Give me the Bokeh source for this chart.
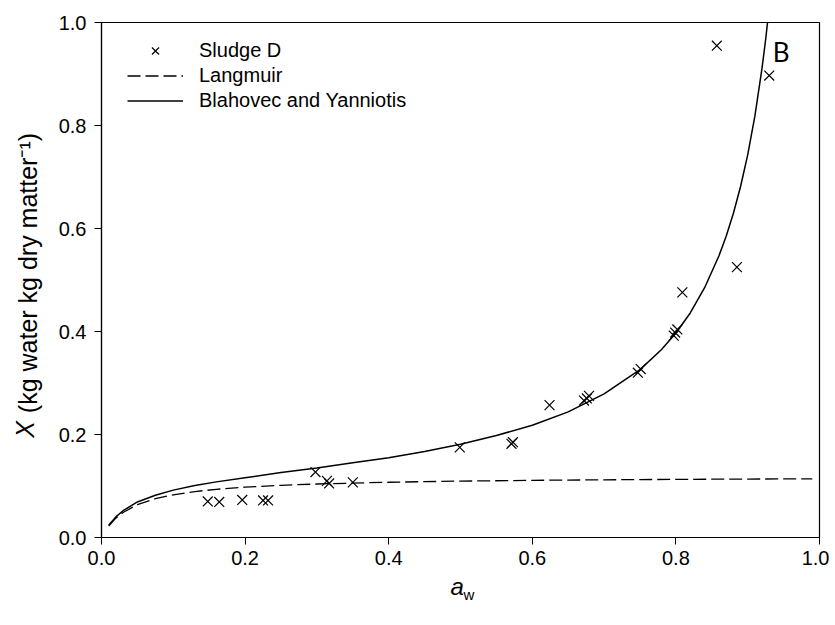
from bokeh.plotting import figure
from bokeh.models import (Range1d, Legend, LegendItem, Label, FixedTicker,
                          PrintfTickFormatter, LinearAxis)
from bokeh.embed import file_html
from bokeh.resources import INLINE

# ---- data ----
aw_pts = [0.148, 0.164, 0.196, 0.225, 0.232, 0.298, 0.314, 0.317, 0.350, 0.499,
          0.571, 0.573, 0.624, 0.672, 0.676, 0.679, 0.747, 0.751, 0.797, 0.799,
          0.802, 0.809, 0.857, 0.885, 0.930]
x_pts = [0.070, 0.069, 0.073, 0.072, 0.072, 0.127, 0.110, 0.105, 0.107, 0.175,
         0.182, 0.185, 0.257, 0.266, 0.270, 0.275, 0.320, 0.327, 0.392, 0.398,
         0.404, 0.476, 0.955, 0.525, 0.897]

lang_aw = [0.01, 0.02, 0.03, 0.05, 0.075, 0.10, 0.13, 0.16, 0.20, 0.25, 0.30,
           0.40, 0.50, 0.60, 0.70, 0.80, 0.90, 0.99]
lang_x = [0.022, 0.0375, 0.0486, 0.0637, 0.0753, 0.0829, 0.0892, 0.0936, 0.0978,
          0.1014, 0.1039, 0.1073, 0.1095, 0.1110, 0.1120, 0.1129, 0.1135, 0.1139]

by_aw = [0.01, 0.02, 0.03, 0.05, 0.075, 0.10, 0.13, 0.16, 0.20, 0.25, 0.30, 0.35,
         0.40, 0.45, 0.50, 0.55, 0.60, 0.65, 0.70, 0.75, 0.78, 0.80, 0.82, 0.84,
         0.86, 0.87, 0.88, 0.89, 0.90, 0.91, 0.92, 0.925, 0.93]
by_x = [0.024, 0.040, 0.052, 0.069, 0.082, 0.092, 0.101, 0.108, 0.116, 0.126,
        0.135, 0.145, 0.155, 0.167, 0.181, 0.198, 0.218, 0.244, 0.279, 0.326,
        0.365, 0.397, 0.436, 0.485, 0.547, 0.585, 0.629, 0.681, 0.743, 0.818,
        0.912, 0.967, 1.030]

ticks = [0.0, 0.2, 0.4, 0.6, 0.8, 1.0]
series_names = ["Sludge D", "Langmuir", "Blahovec and Yanniotis"]

FONT = "Liberation Sans"
NB = "\u00a0"

p = figure(width=829, height=620, output_backend="svg", toolbar_location=None,
           x_range=Range1d(0, 1), y_range=Range1d(0, 1),
           min_border_left=101, min_border_right=10, min_border_top=22,
           min_border_bottom=83)
p.background_fill_color = "white"
p.border_fill_color = "white"
p.outline_line_color = "black"
p.outline_line_width = 1.2
p.grid.visible = False

for ax in (p.xaxis[0], p.yaxis[0]):
    ax.ticker = FixedTicker(ticks=ticks)
    ax.formatter = PrintfTickFormatter(format="%.1f")
    ax.minor_tick_line_color = None
    ax.major_tick_in = 0
    ax.major_tick_out = 7
    ax.major_tick_line_color = "black"
    ax.axis_line_color = "black"
    ax.axis_line_width = 1.2
    ax.major_label_text_font = FONT
    ax.major_label_text_font_size = "20px"
    ax.major_label_text_color = "black"
    ax.axis_label_text_font = FONT
    ax.axis_label_text_color = "black"
p.xaxis.major_label_standoff = 6
p.yaxis.major_label_standoff = 8

# x axis title  a_w : italic "a" on the main axis, subscript "w" on a bare axis below
p.xaxis[0].axis_label = "a" + NB
p.xaxis[0].axis_label_text_font_style = "italic"
p.xaxis[0].axis_label_text_font_size = "24px"
p.xaxis[0].axis_label_standoff = 5

def bare_axis(label, size, style, standoff):
    a = LinearAxis(ticker=FixedTicker(ticks=[]), axis_line_color=None,
                   major_tick_line_color=None, minor_tick_line_color=None,
                   major_tick_out=0, major_tick_in=0, major_label_standoff=0,
                   axis_label=label, axis_label_standoff=standoff,
                   axis_label_text_font=FONT, axis_label_text_font_size=size,
                   axis_label_text_font_style=style, axis_label_text_color="black")
    return a

p.add_layout(bare_axis(NB * 4 + "w", "15px", "normal", -17), "below")

# y axis title: X (kg water kg dry matter^-1)
p.yaxis[0].axis_label = NB * 2 + "(kg water kg dry matter\u207b\u00b9)"
p.yaxis[0].axis_label_text_font_style = "normal"
p.yaxis[0].axis_label_text_font_size = "25px"
p.yaxis[0].axis_label_standoff = 14
p.add_layout(bare_axis("X" + NB * 43, "25px", "italic", -28), "left")

r_by = p.line(by_aw, by_x, line_color="black", line_width=1.5)
r_lang = p.line(lang_aw, lang_x, line_color="black", line_width=1.3, line_dash="13 5")
r_pts = p.scatter(aw_pts, x_pts, marker="x", size=14, line_color="black", line_width=1.2)

legend = Legend(items=[LegendItem(label=series_names[0], renderers=[r_pts]),
                       LegendItem(label=series_names[1], renderers=[r_lang]),
                       LegendItem(label=series_names[2], renderers=[r_by])],
                location=(26, 424), orientation="vertical",
                glyph_width=56, glyph_height=25, label_height=20, label_width=10,
                spacing=0, padding=0, margin=0, label_standoff=16,
                label_text_font=FONT, label_text_font_size="20px",
                label_text_color="black",
                border_line_color=None, background_fill_alpha=0)
p.add_layout(legend, "center")

# panel letter
p.add_layout(Label(x=0.935, y=0.943, text="B", text_font="Lato", text_font_size="26px",
                   text_baseline="alphabetic", text_align="left", text_color="black"))

open("out.html", "w").write(file_html(p, INLINE))
